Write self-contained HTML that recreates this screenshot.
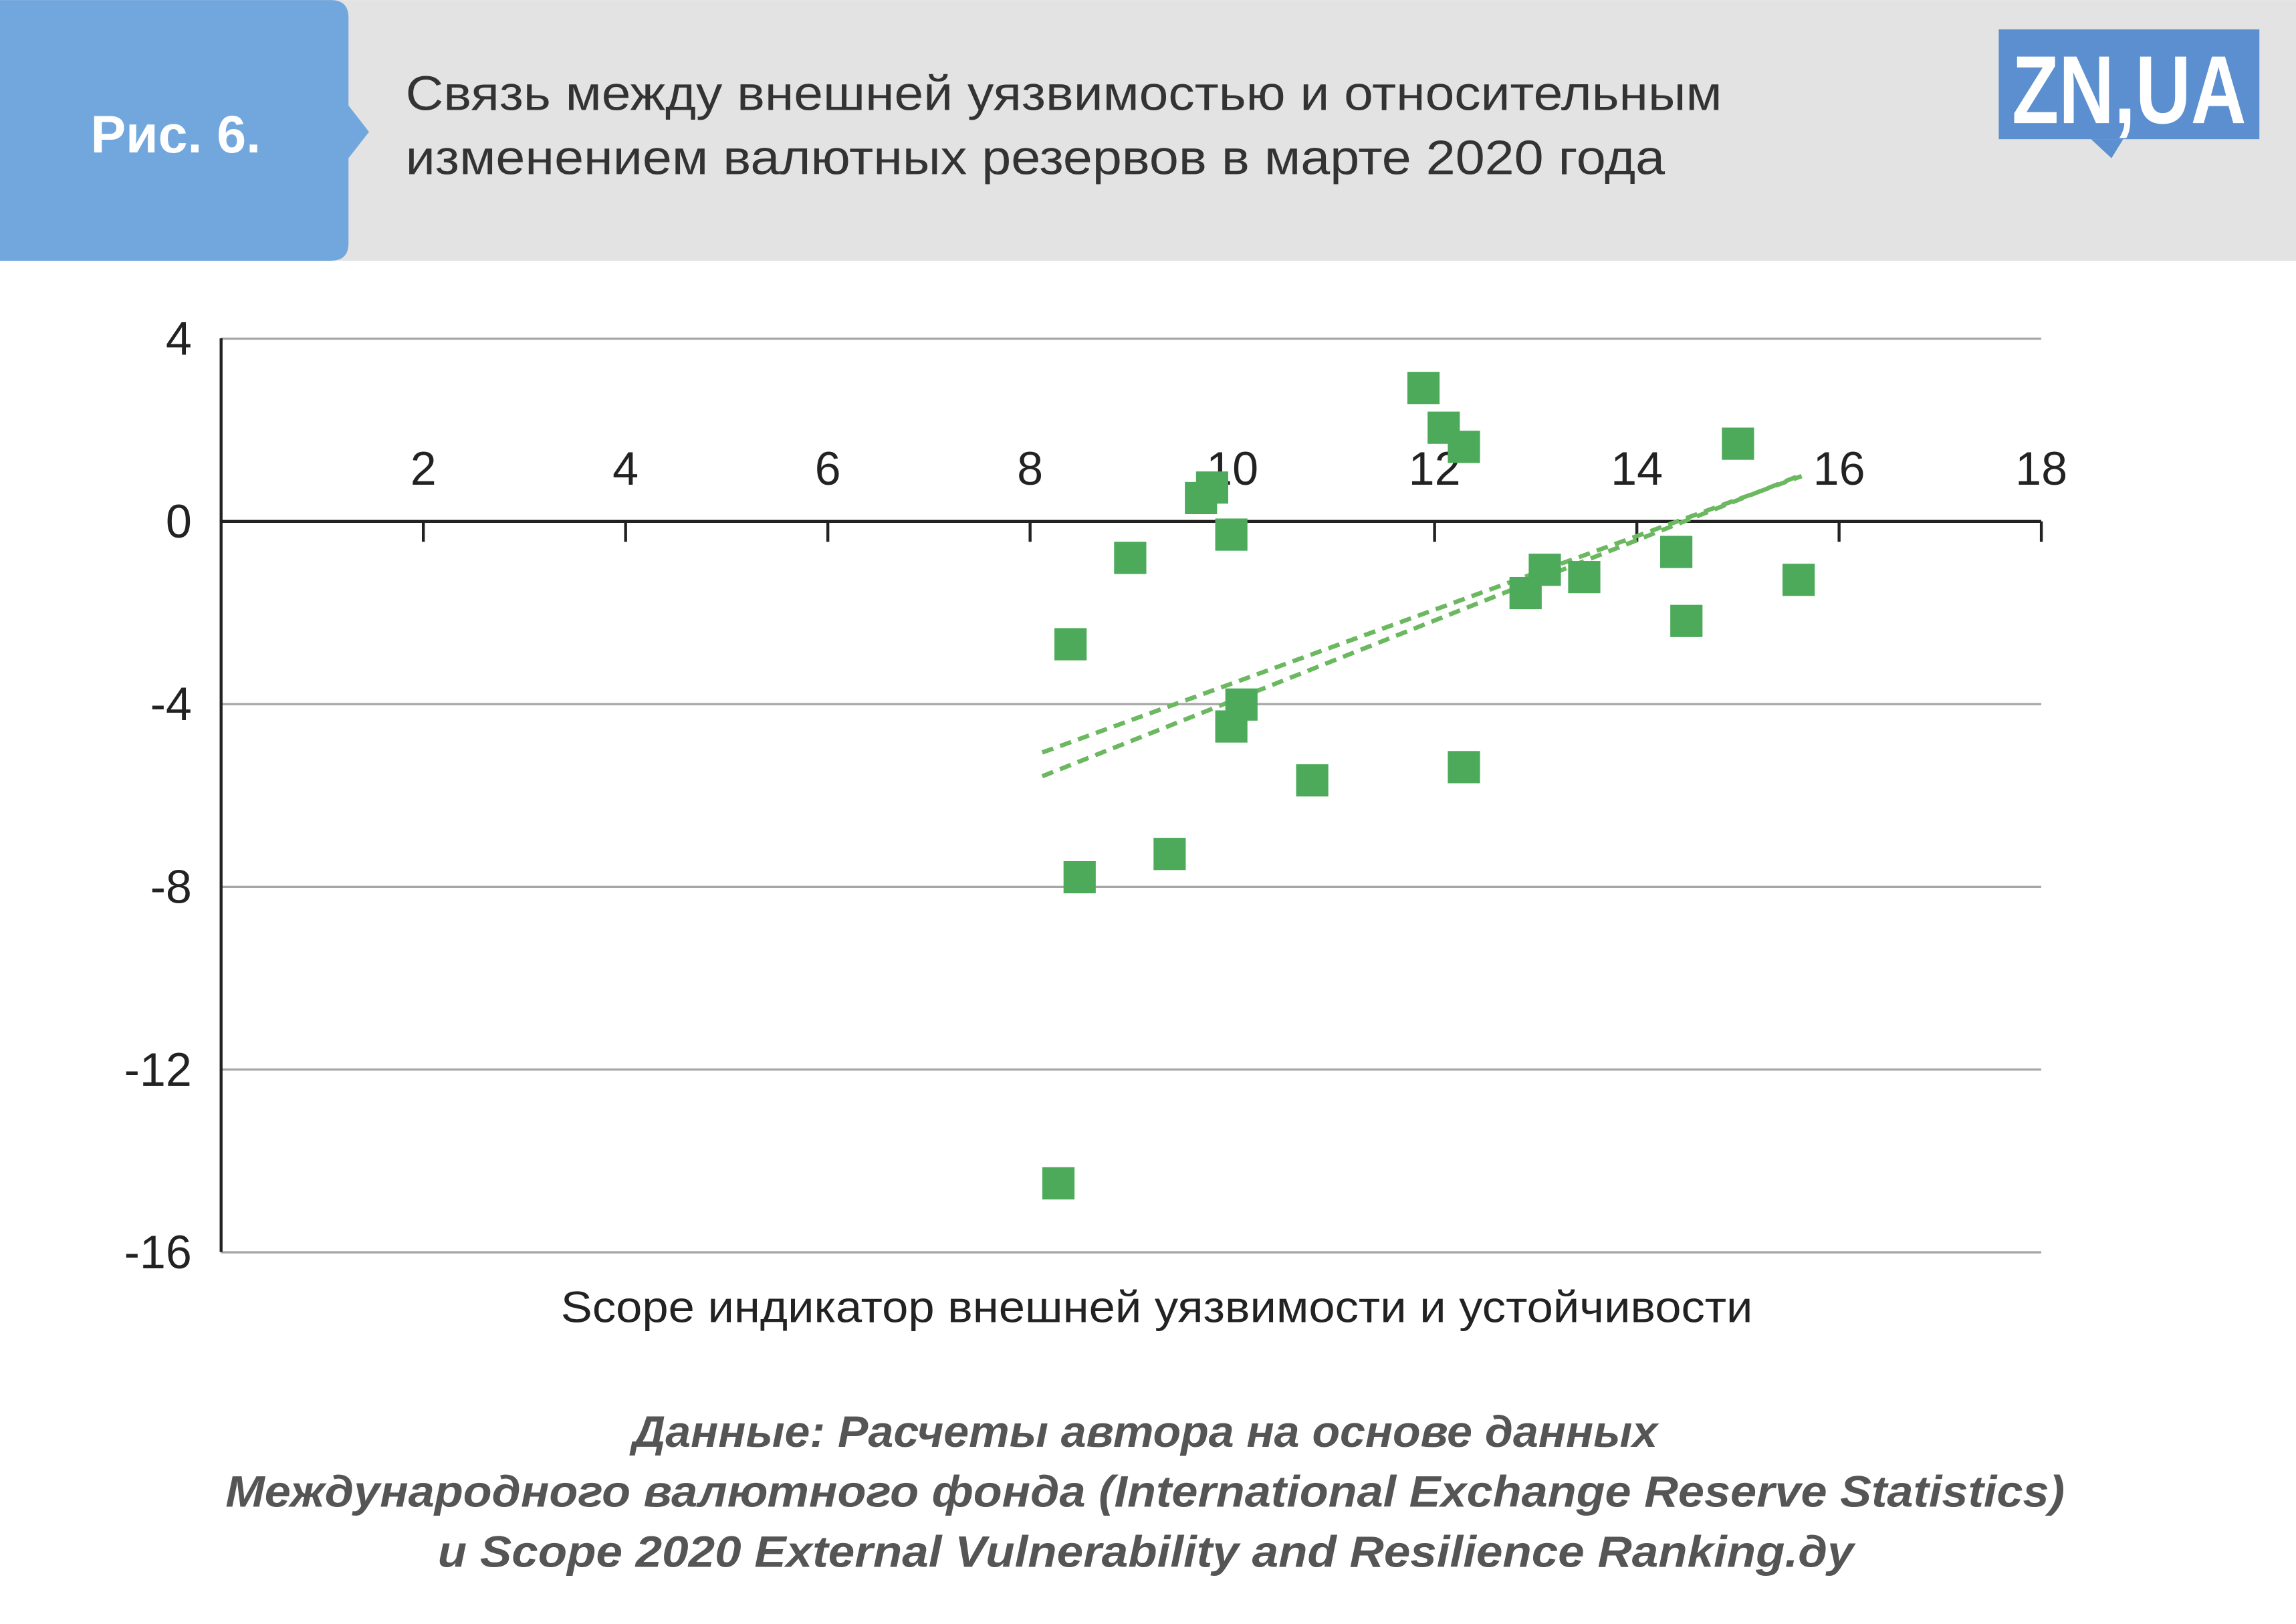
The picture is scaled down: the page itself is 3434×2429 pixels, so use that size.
<!DOCTYPE html>
<html><head><meta charset="utf-8"><style>
html,body{margin:0;padding:0;background:#fff}
svg{display:block}
text{font-family:"Liberation Sans","DejaVu Sans",sans-serif}
</style></head><body>
<svg width="3434" height="2429" viewBox="0 0 1568 1109" xmlns="http://www.w3.org/2000/svg">
<rect x="0" y="0" width="1568" height="178" fill="#e3e3e3"/>
<path d="M0 0 H226 Q238 0 238 12 V72 L252 90 L238 108 V166 Q238 178 226 178 H0 Z" fill="#72a7dd"/>
<text x="120" y="104" text-anchor="middle" font-size="36" font-weight="bold" fill="#fff">Рис. 6.</text>
<text font-size="33" fill="#333"><tspan x="277" y="75" textLength="899" lengthAdjust="spacingAndGlyphs">Связь между внешней уязвимостью и относительным</tspan><tspan x="277" y="119" textLength="860" lengthAdjust="spacingAndGlyphs">изменением валютных резервов в марте 2020 года</tspan></text>
<g>
<rect x="1365" y="20" width="178" height="75" fill="#5b8fcf"/>
<path d="M1428 95 L1442 108 L1450 95 Z" fill="#5b8fcf"/>
<text x="1454" y="84" text-anchor="middle" font-size="66" font-weight="bold" fill="#fff" textLength="160" lengthAdjust="spacingAndGlyphs">ZN,UA</text>
</g>
<g id="plot"></g>
<text x="383" y="903" font-size="30" fill="#222" textLength="814" lengthAdjust="spacingAndGlyphs">Scope индикатор внешней уязвимости и устойчивости</text>
<g font-size="30" font-style="italic" font-weight="bold" fill="#555">
<text x="432" y="988" textLength="700" lengthAdjust="spacingAndGlyphs">Данные: Расчеты автора на основе данных</text>
<text x="154" y="1029" textLength="1256" lengthAdjust="spacingAndGlyphs">Международного валютного фонда (International Exchange Reserve Statistics)</text>
<text x="299" y="1070" textLength="967" lengthAdjust="spacingAndGlyphs">и Scope 2020 External Vulnerability and Resilience Ranking.ду</text>
</g>
</svg>
<script>
const xTicks=[2,4,6,8,10,12,14,16,18];
const yTicks=[4,0,-4,-8,-12,-16];
const xVals=[11.89,12.09,12.29,15.0,9.80,9.69,9.99,8.99,8.40,13.09,12.90,13.48,14.39,14.49,15.60,10.09,9.99,10.79,12.29,9.38,8.49,8.28];
const yVals=[2.92,2.05,1.63,1.70,0.74,0.51,-0.29,-0.80,-2.69,-1.06,-1.57,-1.22,-0.67,-2.18,-1.28,-4.01,-4.49,-5.67,-5.38,-7.28,-7.79,-14.49];
const trendX=[8.12,15.63];
const trendA=[-5.06,0.99];
const trendB=[-5.58,1.02];
const NS="http://www.w3.org/2000/svg";
const g=document.getElementById('plot');
const sx=v=>151+v*69.06;
const sy=v=>356-v*31.2;
function mk(t,a){const e=document.createElementNS(NS,t);for(const k in a)e.setAttribute(k,a[k]);g.appendChild(e);return e;}
yTicks.forEach(v=>{
 if(v!==0){const l=mk('line',{x1:151,x2:1394,y1:sy(v),y2:sy(v),stroke:'#a6a6a6','stroke-width':1.5});
 
 }
 const t=mk('text',{x:131,y:sy(v)+11,'text-anchor':'end','font-size':32,fill:'#222'});t.textContent=v;
 
 
});
const ya=mk('line',{x1:151,x2:151,y1:231,y2:855,stroke:'#222','stroke-width':2});


const xa=mk('line',{x1:151,x2:1394,y1:sy(0),y2:sy(0),stroke:'#222','stroke-width':2});


xTicks.forEach(v=>{
 const tk=mk('line',{x1:sx(v),x2:sx(v),y1:sy(0),y2:sy(0)+14,stroke:'#222','stroke-width':2});
 
 
 const t=mk('text',{x:sx(v),y:331,'text-anchor':'middle','font-size':32,fill:'#222'});t.textContent=v;
 
 
});
[trendA,trendB].forEach(tr=>{
 const l=mk('line',{x1:sx(trendX[0]),y1:sy(tr[0]),x2:sx(trendX[1]),y2:sy(tr[1]),stroke:'#6cb860','stroke-width':3,'stroke-dasharray':'8 5'});
 
 
});
xVals.forEach((x,i)=>{
 const r=mk('rect',{x:sx(x)-11,y:sy(yVals[i])-11,width:22,height:22,fill:'#4caa5a'});
 
 
});
</script>
</body></html>
